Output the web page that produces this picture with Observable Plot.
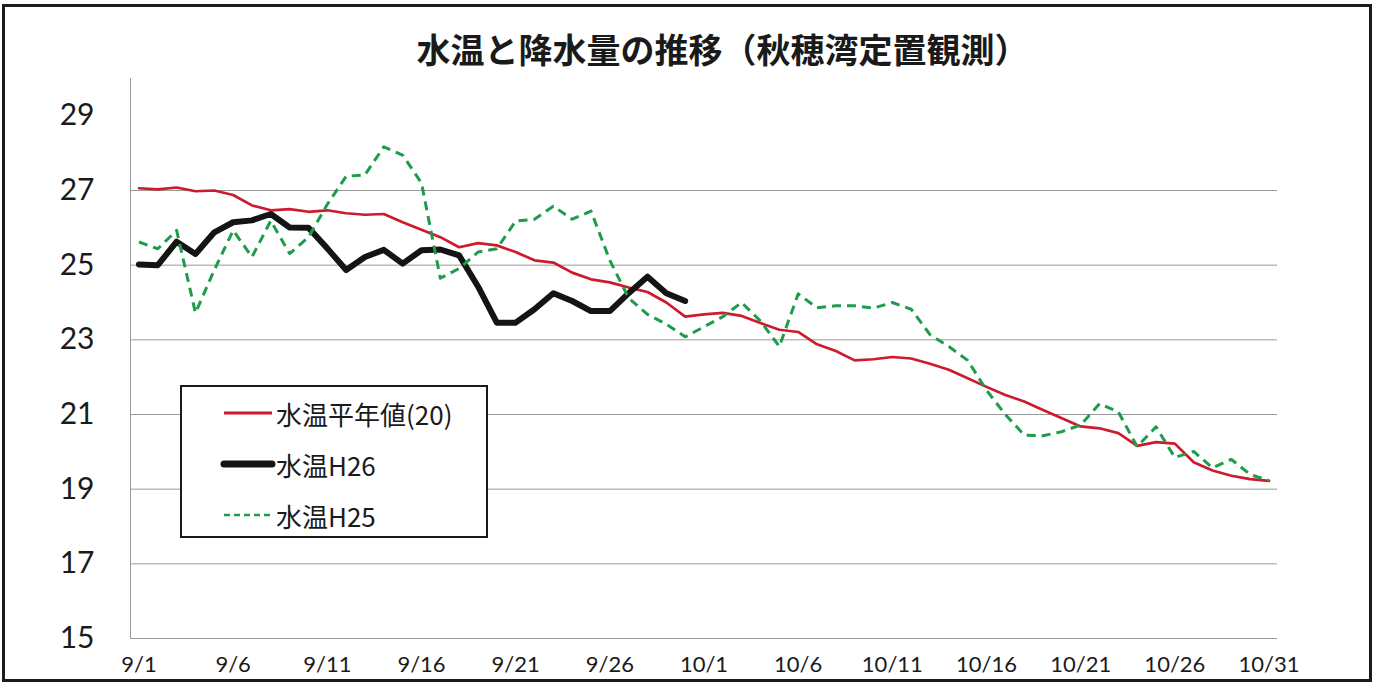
<!DOCTYPE html>
<html>
<head>
<meta charset="utf-8">
<script src="https://cdn.jsdelivr.net/npm/d3@7"></script>
<script src="https://cdn.jsdelivr.net/npm/@observablehq/plot@0.6"></script>
<style>
  html, body { margin: 0; padding: 0; background: #ffffff; }
  #wrap { position: relative; width: 1377px; height: 687px; overflow: hidden; background: #fff; }
  #border { position: absolute; left: 2px; top: 4px; width: 1364px; height: 672px; border: 3px solid #1c1c1c; pointer-events: none; }
  #title { height: 70px; box-sizing: border-box; padding-top: 32px; padding-left: 68px; text-align: center;
           font-family: "Noto Sans CJK JP", sans-serif; font-weight: 700; font-size: 34px; line-height: 1; color: #1a1a1a; }
  #legend { position: absolute; left: 180px; top: 385px; width: 308px; height: 153px; box-sizing: border-box;
            border: 2px solid #1a1a1a; background: #fff; font-family: "Noto Sans CJK JP", sans-serif; font-size: 26px; color: #1a1a1a; }
  .row { position: absolute; left: 38px; height: 30px; display: flex; align-items: center; }
  .row svg { width: 56px; height: 12px; margin-right: 0px; }
</style>
</head>
<body>
<div id="wrap">
  <div id="title">水温と降水量の推移（秋穂湾定置観測）</div>
  <div id="chart"></div>
  <div id="legend"></div>
  <div id="border"></div>
</div>
<script>
// Categories (days)
const dates = [
  "9/1","9/2","9/3","9/4","9/5","9/6","9/7","9/8","9/9","9/10",
  "9/11","9/12","9/13","9/14","9/15","9/16","9/17","9/18","9/19","9/20",
  "9/21","9/22","9/23","9/24","9/25","9/26","9/27","9/28","9/29","9/30",
  "10/1","10/2","10/3","10/4","10/5","10/6","10/7","10/8","10/9","10/10",
  "10/11","10/12","10/13","10/14","10/15","10/16","10/17","10/18","10/19","10/20",
  "10/21","10/22","10/23","10/24","10/25","10/26","10/27","10/28","10/29","10/30","10/31"
];
// 水温平年値(20)
const normal = [
  27.06,27.03,27.08,26.98,27.00,26.88,26.60,26.47,26.50,26.43,
  26.47,26.39,26.35,26.37,26.15,25.95,25.75,25.48,25.59,25.53,
  25.35,25.13,25.07,24.80,24.62,24.54,24.40,24.28,24.00,23.62,
  23.68,23.72,23.64,23.45,23.27,23.21,22.88,22.70,22.45,22.48,
  22.54,22.50,22.36,22.20,21.97,21.74,21.52,21.35,21.12,20.90,
  20.68,20.63,20.50,20.16,20.26,20.22,19.72,19.50,19.36,19.27,19.22
];
// 水温H26 (9/1 - 9/30)
const h26 = [
  25.02,25.00,25.63,25.30,25.88,26.15,26.20,26.37,26.01,26.00,
  25.45,24.87,25.22,25.41,25.04,25.40,25.42,25.26,24.43,23.46,
  23.46,23.82,24.25,24.04,23.77,23.77,24.25,24.69,24.25,24.04
];
// 水温H25
const h25 = [
  25.62,25.44,25.93,23.72,24.87,25.93,25.22,26.19,25.31,25.75,
  26.63,27.38,27.42,28.17,27.95,27.20,24.65,24.91,25.35,25.44,
  26.18,26.23,26.58,26.23,26.45,25.13,24.12,23.68,23.42,23.08,
  23.35,23.62,24.00,23.50,22.82,24.23,23.86,23.91,23.91,23.85,
  24.00,23.82,23.14,22.82,22.45,21.65,21.00,20.45,20.43,20.54,
  20.72,21.29,21.07,20.14,20.67,19.85,20.01,19.57,19.80,19.39,19.23
];
const yTicks = [15,17,19,21,23,25,27,29];
const gridLines = [17,19,21,23,25,27];
const xTicks = ["9/1","9/6","9/11","9/16","9/21","9/26","10/1","10/6","10/11","10/16","10/21","10/26","10/31"];

const series = [
  {name: "水温平年値(20)", values: normal, stroke: "#cc1b2e", width: 2.7, dash: null},
  {name: "水温H26", values: h26, stroke: "#141414", width: 6, dash: null},
  {name: "水温H25", values: h25, stroke: "#1f9b4c", width: 3, dash: "9,6"}
];
const toRows = vals => vals.map((v, i) => ({date: dates[i], v}));

const chart = Plot.plot({
  width: 1377,
  height: 617,
  marginLeft: 130,
  marginRight: 100,
  marginTop: 8,
  marginBottom: 49,
  style: {background: "transparent", color: "#1a1a1a"},
  x: {type: "point", domain: dates, padding: 0.45},
  y: {domain: [15, 30]},
  marks: [
    Plot.ruleY(gridLines, {stroke: "#9a9a9a", strokeWidth: 1}),
    Plot.ruleY([15], {stroke: "#9a9a9a", strokeWidth: 1}),
    Plot.frame({anchor: "left", stroke: "#9a9a9a", strokeWidth: 1}),
    Plot.axisY(yTicks, {tickSize: 0, tickPadding: 36, fontSize: 30, fontFamily: "Lato, sans-serif", label: null}),
    Plot.axisX(xTicks, {tickSize: 0, tickPadding: 18, fontSize: 22, fontFamily: "Lato, sans-serif", label: null}),
    ...series.map(s => Plot.line(toRows(s.values), {
      x: "date", y: "v", stroke: s.stroke, strokeWidth: s.width,
      strokeDasharray: s.dash, strokeLinejoin: "round", strokeLinecap: s.dash ? "butt" : "round"
    }))
  ]
});
document.getElementById("chart").appendChild(chart);

// Legend
const legend = document.getElementById("legend");
const rowTops = [11, 62, 113];
series.forEach((s, i) => {
  const row = document.createElement("div");
  row.className = "row";
  row.style.top = rowTops[i] + "px";
  const sw = s.dash ? 2.6 : (s.width > 4 ? 7 : 3);
  row.innerHTML = `<svg viewBox="0 0 56 12"><line x1="4" y1="6" x2="52" y2="6" stroke="${s.stroke}" stroke-width="${sw}" stroke-linecap="${s.width > 4 ? "round" : "butt"}" ${s.dash ? 'stroke-dasharray="6,4"' : ""}/></svg><span>${s.name}</span>`;
  legend.appendChild(row);
});
</script>
</body>
</html>
